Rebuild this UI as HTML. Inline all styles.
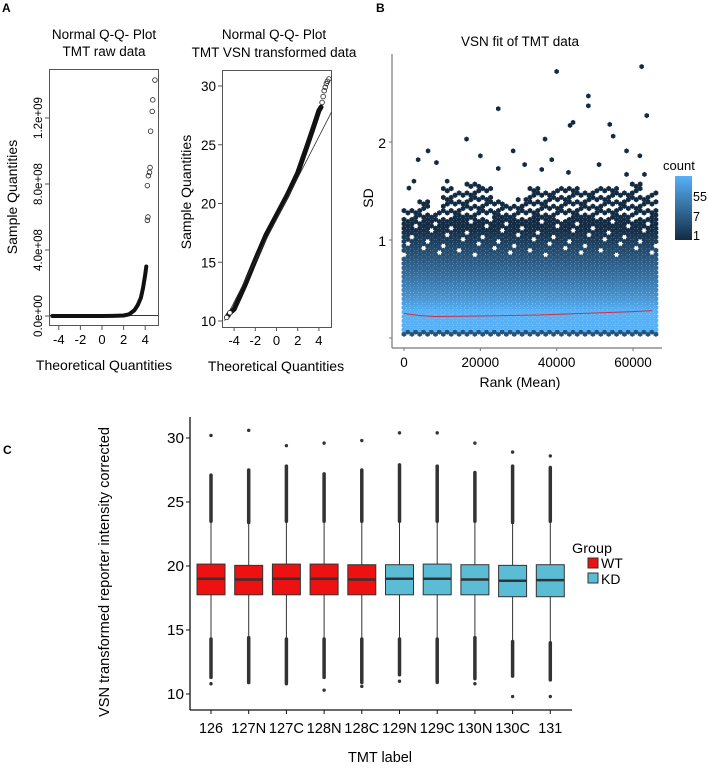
<!DOCTYPE html>
<html><head><meta charset="utf-8"><style>
html,body{margin:0;padding:0;background:#fff}
svg{display:block;font-family:"Liberation Sans",Arial,sans-serif}
</style></head><body>
<svg id="fig" width="708" height="769" viewBox="0 0 708 769">
<g id="pA">
<text x="2" y="12" font-size="12" font-weight="bold">A</text>
<text x="104" y="39" font-size="13.5" text-anchor="middle">Normal Q-Q- Plot</text>
<text x="104" y="56" font-size="13.5" text-anchor="middle">TMT raw data</text>
<text x="274" y="39" font-size="13.5" text-anchor="middle">Normal Q-Q- Plot</text>
<text x="274" y="57" font-size="13.5" text-anchor="middle">TMT VSN transformed data</text>
<rect x="49.5" y="69.5" width="109" height="256" fill="none" stroke="#555"/>
<rect x="222.5" y="70.5" width="109" height="257" fill="none" stroke="#555"/>
<text x="104" y="370" font-size="14" text-anchor="middle">Theoretical Quantities</text>
<text x="276" y="371" font-size="14" text-anchor="middle">Theoretical Quantities</text>
<text transform="translate(17,197) rotate(-90)" font-size="14" text-anchor="middle">Sample Quantities</text>
<text transform="translate(191,192) rotate(-90)" font-size="14" text-anchor="middle">Sample Quantities</text>
</g>
<g id="pB">
<text x="376" y="12" font-size="12" font-weight="bold">B</text>
<text x="520" y="46" font-size="13.5" text-anchor="middle">VSN fit of TMT data</text>
<text x="520" y="387" font-size="14" text-anchor="middle">Rank (Mean)</text>
<text transform="translate(373,198) rotate(-90)" font-size="14" text-anchor="middle">SD</text>
<text x="663" y="170" font-size="13">count</text>
<defs><linearGradient id="cg" x1="0" y1="0" x2="0" y2="1"><stop offset="0" stop-color="#56B1F7"/><stop offset="1" stop-color="#132B43"/></linearGradient></defs>
<rect x="675" y="176" width="17" height="64" fill="url(#cg)"/>
<text x="693" y="201" font-size="12.5">55</text>
<text x="693" y="221" font-size="12.5">7</text>
<text x="693" y="240" font-size="12.5">1</text>
</g>
<g id="pC">
<text x="3" y="454" font-size="12" font-weight="bold">C</text>
<text x="380" y="762" font-size="15" text-anchor="middle" textLength="64" lengthAdjust="spacingAndGlyphs">TMT label</text>
<text transform="translate(109,572) rotate(-90)" font-size="14.5" text-anchor="middle" textLength="290" lengthAdjust="spacingAndGlyphs">VSN transformed reporter intensity corrected</text>
<text x="572" y="553" font-size="14" textLength="40" lengthAdjust="spacingAndGlyphs">Group</text>
<rect x="588" y="558" width="10" height="10" fill="#EE1111" stroke="#333"/>
<text x="601" y="568" font-size="14">WT</text>
<rect x="588" y="573" width="10" height="10" fill="#5BBCD6" stroke="#333"/>
<text x="601" y="584" font-size="14">KD</text>
</g>
</svg>
<script>
// ---------- Panel A data ----------
const rawTheo = [-4.6,-3,-1,0,1,2,2.5,3,3.3,3.6,3.8,4.0,4.1];
const rawSample = [0,0,0,0,0.01e8,0.03e8,0.1e8,0.35e8,0.65e8,1.1e8,1.7e8,2.5e8,3.0e8];
const rawOutTheo = [4.2,4.25,4.2,4.3,4.4,4.45,4.5,4.65,4.7,4.9];
const rawOutSample = [5.8e8,6.0e8,7.9e8,8.5e8,8.7e8,9.0e8,11.2e8,12.4e8,13.1e8,14.3e8];
const rawXTicks = [-4,-2,0,2,4];
const rawYTicks = [0,4e8,8e8,1.2e9];
const rawYTickLabels = ["0.0e+00","4.0e+08","8.0e+08","1.2e+09"];
const vsnTheo = [-4.7,-4.4,-4,-3,-2,-1,0,1,2,3,3.6,4,4.2];
const vsnSample = [10.3,10.7,11.0,13.0,15.2,17.3,19.0,20.7,22.6,25.2,26.8,27.9,28.2];
const vsnOutTheo = [4.3,4.4,4.5,4.6,4.7,4.8,4.95];
const vsnOutSample = [28.6,29.1,29.6,29.9,30.2,30.4,30.6];
const vsnXTicks = [-4,-2,0,2,4];
const vsnYTicks = [10,15,20,25,30];
const vsnLine = [18.65,1.76]; // intercept, slope

// ---------- Panel B data ----------
const envelopeSD = [1.35,1.45,1.3,1.55,1.5,1.6,1.55,1.45,1.4,1.45,1.55,1.5,1.55,1.6,1.5,1.55,1.6,1.55,1.65,1.5];
const outRank = [40000,62270,24700,48300,48300,63600,16400,36950,43500,44300,53900,6300,3700,28600,38700,54800,58300,61800,20000,8500,31600,51100,36100,43100,1300,2600,11300,24700,63000,58300];
const outSD = [2.74,2.79,2.36,2.49,2.39,2.29,2.05,2.05,2.19,2.22,2.2,1.93,1.84,1.93,1.84,2.08,1.93,1.88,1.88,1.81,1.79,1.79,1.74,1.71,1.55,1.62,1.62,1.75,1.69,1.69];
const fitRank = [0,4000,8000,20000,35000,50000,60000,65000];
const fitSD = [0.27,0.25,0.24,0.245,0.255,0.275,0.29,0.30];
const bXTicks = [0,20000,40000,60000];
const bYTicks = [0,1,2];

// ---------- Panel C data ----------
const labels = ["126","127N","127C","128N","128C","129N","129C","130N","130C","131"];
const groups = ["WT","WT","WT","WT","WT","KD","KD","KD","KD","KD"];
const q1 = [17.75,17.75,17.75,17.75,17.75,17.75,17.75,17.75,17.6,17.6];
const medians = [19.0,18.95,19.0,19.0,18.95,19.0,19.0,18.95,18.85,18.9];
const q3 = [20.15,20.05,20.15,20.15,20.1,20.1,20.15,20.1,20.05,20.1];
const whiskLo = [14.3,14.4,14.3,14.3,14.3,14.3,14.3,14.4,14.1,14.0];
const whiskHi = [23.5,23.4,23.5,23.5,23.5,23.5,23.5,23.5,23.4,23.5];
const denseHi = [27.1,27.5,27.8,27.2,27.5,27.9,27.8,27.3,27.8,27.7];
const denseLo = [11.3,10.9,10.9,11.3,10.9,11.5,11.0,11.2,11.4,11.1];
const topOut = [30.2,30.6,29.4,29.6,29.8,30.4,30.4,29.6,28.9,28.6];
const bottomOut = [10.8,10.9,10.8,10.3,10.6,11.0,10.9,10.8,9.8,9.8];
const cYTicks = [10,15,20,25,30];

const NS = "http://www.w3.org/2000/svg";
function mk(parent, tag, attrs){ const e=document.createElementNS(NS,tag); for(const k in attrs) e.setAttribute(k,attrs[k]); parent.appendChild(e); return e; }
const pA=document.getElementById('pA'), pB=document.getElementById('pB'), pC=document.getElementById('pC');

// ===== Panel A raw =====
const rx = v => 102 + v*10.8;
const ry = v => 316 - v/4e8*66;
rawXTicks.forEach(t=>{
  const l=mk(pA,'line',{x1:rx(t),x2:rx(t),y1:326,y2:330,stroke:'#555'});
   
  const tx=mk(pA,'text',{x:rx(t),y:344,'font-size':13,'text-anchor':'middle'}); tx.textContent=t;
   
});
rawYTicks.forEach((t,i)=>{
  const l=mk(pA,'line',{x1:45,x2:49,y1:ry(t),y2:ry(t),stroke:'#555'});
   
  const tx=mk(pA,'text',{transform:`translate(42,${ry(t)}) rotate(-90)`,'font-size':11.5,'text-anchor':'middle'}); tx.textContent=rawYTickLabels[i];
   
});
let ln=mk(pA,'line',{x1:50,x2:158,y1:ry(0)-0.5,y2:ry(0)-0.5,stroke:'#333'});
 
let pth=mk(pA,'polyline',{points:rawTheo.map((t,i)=>rx(t)+','+ry(rawSample[i])).join(' '),fill:'none',stroke:'#111','stroke-width':4,'stroke-linejoin':'round','stroke-linecap':'round'});
 
rawOutTheo.forEach((t,i)=>{
  const c=mk(pA,'circle',{cx:rx(t),cy:ry(rawOutSample[i]),r:2.3,fill:'none',stroke:'#222','stroke-width':0.8});
   
});
// ===== Panel A vsn =====
const vx = v => 276.5 + v*10.6;
const vy = v => 321 - (v-10)*11.75;
vsnXTicks.forEach(t=>{
  const l=mk(pA,'line',{x1:vx(t),x2:vx(t),y1:327,y2:331,stroke:'#555'});
   
  const tx=mk(pA,'text',{x:vx(t),y:345,'font-size':13,'text-anchor':'middle'}); tx.textContent=t;
   
});
vsnYTicks.forEach(t=>{
  const l=mk(pA,'line',{x1:218,x2:222,y1:vy(t),y2:vy(t),stroke:'#555'});
   
  const tx=mk(pA,'text',{x:216,y:vy(t)+5,'font-size':13.5,'text-anchor':'end'}); tx.textContent=t;
   
});
pth=mk(pA,'polyline',{points:vsnTheo.map((t,i)=>vx(t)+','+vy(vsnSample[i])).join(' '),fill:'none',stroke:'#111','stroke-width':5,'stroke-linejoin':'round','stroke-linecap':'round'});
 
ln=mk(pA,'line',{x1:vx(-4.9),y1:vy(vsnLine[0]+vsnLine[1]*-4.9),x2:vx(5.2),y2:vy(vsnLine[0]+vsnLine[1]*5.2),stroke:'#333','stroke-width':0.8});
 
vsnOutTheo.forEach((t,i)=>{
  const c=mk(pA,'circle',{cx:vx(t),cy:vy(vsnOutSample[i]),r:2.3,fill:'none',stroke:'#222','stroke-width':0.8});
   
});
[[-4.7,10.3],[-4.4,10.7]].forEach(p=>{
  const c=mk(pA,'circle',{cx:vx(p[0]),cy:vy(p[1]),r:2.3,fill:'#fff',stroke:'#222','stroke-width':0.8});
   
});

// ===== Panel B =====
const bx = v => 404 + v*(229/60000);
const by = v => 340 - v*98;
ln=mk(pB,'line',{x1:392,x2:392,y1:54,y2:348,stroke:'#777','stroke-width':1.2});
 
ln=mk(pB,'line',{x1:392,x2:662,y1:348,y2:348,stroke:'#777','stroke-width':1.2});
 
bXTicks.forEach(t=>{
  const l=mk(pB,'line',{x1:bx(t),x2:bx(t),y1:348,y2:351,stroke:'#777'});
   
  const tx=mk(pB,'text',{x:bx(t),y:367,'font-size':13.5,'text-anchor':'middle'}); tx.textContent=t;
   
});
bYTicks.forEach(t=>{
  const l=mk(pB,'line',{x1:389,x2:392,y1:by(t)-2,y2:by(t)-2,stroke:'#777'});
   
  if(t>0){const tx=mk(pB,'text',{x:386,y:by(t)+4,'font-size':14,'text-anchor':'end'}); tx.textContent=t;
   }
});
function col(sd){
  let t=Math.max(0,Math.min(1,(sd-0.3)/0.85));
  t=Math.pow(t,0.85);
  if(sd<0.1) t=0.7;
  const a=[0x56,0xB1,0xF7], b=[0x13,0x2B,0x43];
  return 'rgb('+a.map((v,i)=>Math.round(v+(b[i]-v)*t)).join(',')+')';
}
const hexG=mk(pB,'g',{});
 
function hex(cx,cy,r,fill){
  let pts=[]; for(let k=0;k<6;k++){const a=Math.PI/3*k+Math.PI/6; pts.push((cx+r*Math.cos(a)).toFixed(1)+','+(cy+r*Math.sin(a)).toFixed(1));}
  const h=mk(hexG,'polygon',{points:pts.join(' '),fill:fill});
   
}
const nCol=64, rankStep=66000/nCol;
for(let i=0;i<=nCol;i++){
  const rank=i*rankStep;
  const top=envelopeSD[Math.min(envelopeSD.length-1,Math.floor(rank/66000*envelopeSD.length))];
  for(let j=0;;j++){
    const sd=0.06+j*0.045+(i%2)*0.0225;
    if(sd>top) break;
    if(sd>1.25 && ((i*7+j*3)%5<2)) continue;
    if(sd>0.85 && sd<=1.25 && ((i*5+j*11)%9===0)) continue;
    hex(bx(rank),by(sd),2.75,col(sd));
  }
}
outRank.forEach((r,i)=>hex(bx(r),by(outSD[i]),2.6,col(3)));
pth=mk(pB,'polyline',{points:fitRank.map((r,i)=>bx(r)+','+by(fitSD[i])).join(' '),fill:'none',stroke:'#C8304A','stroke-width':1});
 

// ===== Panel C =====
const cx = i => 211 + i*37.7;
const cy = v => 694 - (v-10)*12.8;
ln=mk(pC,'line',{x1:190,x2:190,y1:417,y2:710,stroke:'#111','stroke-width':1.3});
 
ln=mk(pC,'line',{x1:190,x2:572,y1:710,y2:710,stroke:'#111','stroke-width':1.3});
 
cYTicks.forEach(t=>{
  const l=mk(pC,'line',{x1:186,x2:190,y1:cy(t),y2:cy(t),stroke:'#111'});
   
  const tx=mk(pC,'text',{x:184,y:cy(t)+5,'font-size':15,'text-anchor':'end',textLength:17,lengthAdjust:'spacingAndGlyphs'}); tx.textContent=t;
   
});
labels.forEach((lab,i)=>{
  const x=cx(i), fill=groups[i]==='WT'?'#EE1111':'#5BBCD6';
  const g=mk(pC,'g',{});
   
  const tk=mk(g,'line',{x1:x,x2:x,y1:710,y2:714,stroke:'#111'});
   
  const tx=mk(g,'text',{x:x,y:733,'font-size':15,'text-anchor':'middle','textLength':lab.length>3?35:24,lengthAdjust:'spacingAndGlyphs'}); tx.textContent=lab;
   
  const dh=mk(g,'line',{x1:x,x2:x,y1:cy(denseHi[i]),y2:cy(whiskHi[i]),stroke:'#333','stroke-width':3.5,'stroke-linecap':'round'});
   
  const dl=mk(g,'line',{x1:x,x2:x,y1:cy(whiskLo[i]),y2:cy(denseLo[i]),stroke:'#333','stroke-width':3.5,'stroke-linecap':'round'});
   
  const wk=mk(g,'line',{x1:x,x2:x,y1:cy(whiskHi[i]),y2:cy(whiskLo[i]),stroke:'#333','stroke-width':1});
   
  const bx_=mk(g,'rect',{x:x-14,y:cy(q3[i]),width:28,height:cy(q1[i])-cy(q3[i]),fill:fill,stroke:'#333','stroke-width':1});
   
  const md=mk(g,'line',{x1:x-14,x2:x+14,y1:cy(medians[i]),y2:cy(medians[i]),stroke:'#333','stroke-width':2.5});
   
  const to=mk(g,'circle',{cx:x,cy:cy(topOut[i]),r:1.7,fill:'#333'});
   
  const bo=mk(g,'circle',{cx:x,cy:cy(bottomOut[i]),r:1.7,fill:'#333'});
   
});
</script>
</body></html>
